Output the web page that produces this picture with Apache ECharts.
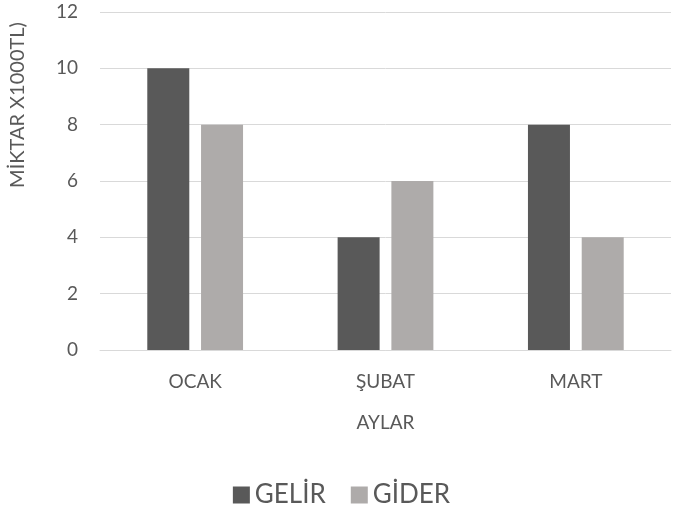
<!DOCTYPE html>
<html lang="tr">
<head>
    <meta charset="utf-8">
    <title>Gelir Gider</title>
    <script src="https://cdn.jsdelivr.net/npm/echarts@6/dist/echarts.min.js"></script>
    <style>
        html, body { margin: 0; padding: 0; background: #fff; }
        #chart { width: 683px; height: 518px; }
    </style>
</head>
<body>
    <div id="chart"></div>
    <script>
        // data
        var months = ['OCAK', 'ŞUBAT', 'MART'];
        var gelir = [10, 4, 8];
        var gider = [8, 6, 4];

        var textColor = '#595959';
        var fontName = 'Lato, "Open Sans", sans-serif';

        var chart = echarts.init(document.getElementById('chart'));

        var option = {
            animation: false,
            textStyle: { fontFamily: fontName, color: textColor },
            grid: { left: 100, right: 12, top: 12, bottom: 168 },
            legend: {
                bottom: 5,
                left: 'center',
                itemWidth: 17,
                itemHeight: 17,
                itemGap: 25,
                icon: 'rect',
                textStyle: { fontSize: 26, color: textColor, fontFamily: fontName },
                data: ['GELİR', 'GİDER']
            },
            xAxis: {
                type: 'category',
                data: months,
                name: 'AYLAR',
                nameLocation: 'middle',
                nameGap: 63,
                nameTextStyle: { fontSize: 19, color: textColor },
                axisLine: { lineStyle: { color: '#d9d9d9', width: 1 } },
                axisTick: { show: false },
                axisLabel: { fontSize: 19, color: textColor, margin: 22 }
            },
            yAxis: {
                type: 'value',
                min: 0,
                max: 12,
                interval: 2,
                axisLine: { show: false },
                axisTick: { show: false },
                splitLine: { lineStyle: { color: '#d9d9d9', width: 1 } },
                axisLabel: { fontSize: 19, color: textColor, margin: 22 }
            },
            graphic: [{
                type: 'text',
                x: 18,
                y: 105,
                rotation: Math.PI / 2,
                style: {
                    text: 'MİKTAR X1000TL)',
                    fontSize: 20,
                    fontFamily: fontName,
                    fill: textColor,
                    align: 'center',
                    verticalAlign: 'middle'
                }
            }],
            series: [
                {
                    name: 'GELİR',
                    type: 'bar',
                    data: gelir,
                    barWidth: 42,
                    barGap: '28%',
                    itemStyle: { color: '#595959' }
                },
                {
                    name: 'GİDER',
                    type: 'bar',
                    data: gider,
                    barWidth: 42,
                    itemStyle: { color: '#aeabaa' }
                }
            ]
        };

        chart.setOption(option);
    </script>
</body>
</html>
